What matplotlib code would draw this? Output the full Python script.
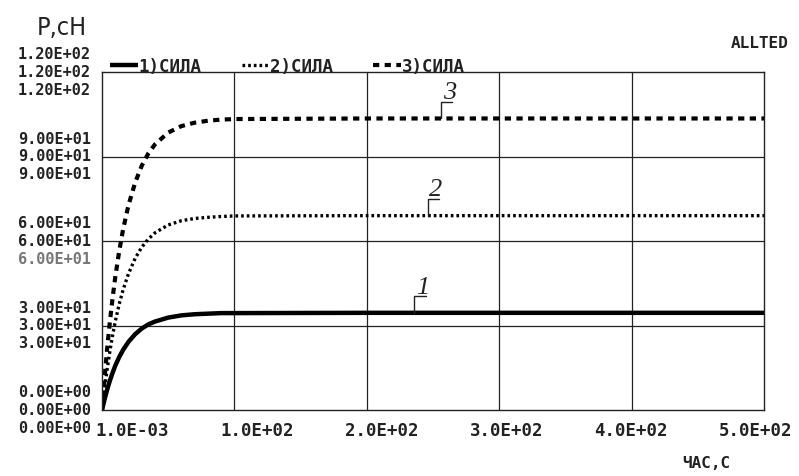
import matplotlib
matplotlib.use('Agg')
import matplotlib.pyplot as plt
import numpy as np

# data (time in s, force in cN)
t = [0, 2, 4, 6, 8, 10, 13, 16, 20, 25, 30, 35, 40, 50, 60, 70, 80, 90, 100,
     200, 300, 400, 500]
force1 = [0, 3.9, 7.4, 10.5, 13.2, 15.7, 18.8, 21.4, 24.2, 26.9, 28.9, 30.4,
          31.4, 32.8, 33.6, 34.0, 34.2, 34.4, 34.4, 34.5, 34.5, 34.5, 34.5]
force2 = [0, 7.9, 14.8, 21.0, 26.5, 31.4, 37.6, 42.8, 48.4, 53.8, 57.8, 60.7,
          62.9, 65.7, 67.2, 68.0, 68.4, 68.7, 68.9, 69.0, 69.0, 69.0, 69.0]
force3 = [0, 11.8, 22.3, 31.6, 39.7, 47.1, 56.4, 64.3, 72.7, 80.7, 86.7, 91.1,
          94.3, 98.5, 100.8, 102.0, 102.7, 103.1, 103.3, 103.5, 103.5, 103.5, 103.5]

xticks = [0, 100, 200, 300, 400, 500]
xtick_labels = ['1.0E-03', '1.0E+02', '2.0E+02', '3.0E+02', '4.0E+02', '5.0E+02']
yticks = [0, 30, 60, 90, 120]
ytick_labels = ['0.00E+00', '3.00E+01', '6.00E+01', '9.00E+01', '1.20E+02']
legend_labels = ['1)СИЛА', '2)СИЛА', '3)СИЛА']
curve_tags = ['1', '2', '3']
tag_times = [236, 246, 256]

mono = 'DejaVu Sans Mono'
ink = '#222222'

fig = plt.figure(figsize=(7.99, 4.77), dpi=100)
ax = fig.add_axes([102/799, 1-411/477, (764-102)/799, (411-73)/477])
ax.set_xlim(0, 500)
ax.set_ylim(0, 120)

l1, = ax.plot(t, force1, color='black', lw=3.2, solid_capstyle='butt')
l2, = ax.plot(t, force2, color='black', lw=2.4, linestyle=(0, (0.8, 0.9)))
l3, = ax.plot(t, force3, color='black', lw=3.0, linestyle=(0, (1.5, 1.3)))

# grid lines
for xv in xticks[1:-1]:
    ax.axvline(xv, color=ink, lw=0.9, zorder=0)
for yv in yticks[1:-1]:
    ax.axhline(yv, color=ink, lw=0.9, zorder=0)
for s in ax.spines.values():
    s.set_linewidth(1.0)
    s.set_color(ink)

# x labels sit slightly off the grid lines in the original
ax.set_xticks(xticks)
ax.set_xticklabels([])
ax.tick_params(axis='both', which='both', length=0)
ax.set_xticks(np.linspace(23, 494, 6), minor=True)
ax.set_xticklabels(xtick_labels, minor=True, fontfamily=mono,
                   fontweight='bold', fontsize=12.5, color=ink)
ax.tick_params(axis='x', which='minor', pad=8)

# y labels repeated three times around every grid line
ax.set_yticks(yticks)
ax.set_yticklabels([])
for yv, lab in zip(yticks, ytick_labels):
    for dy in (13, 0.5, -12.5):
        col = ink
        if yv == 60 and dy < 0:
            col = '#777777'
        ax.annotate(lab, xy=(0, yv), xycoords=('axes fraction', 'data'),
                    xytext=(-8, dy), textcoords='offset points',
                    ha='right', va='center', fontfamily=mono,
                    fontweight='bold', fontsize=11, color=col)

# curve number tags with leader lines
for tag, tt, line in zip(curve_tags, tag_times, [force1, force2, force3]):
    yv = line[-1]
    ax.annotate('', xy=(tt, yv), xytext=(8, 12), textcoords='offset points',
                arrowprops=dict(arrowstyle='-', lw=1.0, color=ink,
                                connectionstyle='angle,angleA=0,angleB=90,rad=0',
                                shrinkA=0, shrinkB=0))
    ax.annotate(tag, xy=(tt, yv), xytext=(6, 11), textcoords='offset points',
                ha='center', va='bottom', fontfamily='Liberation Serif',
                fontstyle='italic', fontsize=19, color=ink)

leg = ax.legend([l1, l2, l3], legend_labels, ncol=3, frameon=False,
                loc='lower left', bbox_to_anchor=(0.012, 0.99),
                borderaxespad=0, handlelength=1.6, handletextpad=0.05,
                columnspacing=2.3, borderpad=0,
                prop=dict(family=mono, weight='bold', size=12.5))
for txt in leg.get_texts():
    txt.set_color(ink)

fig.text(62/799, 1-28/477, 'Р,сН', ha='center', va='center', fontsize=18,
         family='DejaVu Sans', stretch='condensed', color=ink)
fig.text(760/799, 1-43/477, 'ALLTED', ha='center', va='center',
         fontfamily=mono, fontweight='bold', fontsize=11.5, color=ink)
fig.text(706/799, 1-464/477, 'ЧАС,С', ha='center', va='center',
         fontfamily=mono, fontweight='bold', fontsize=11.5, color=ink)

plt.savefig('out.png', dpi=100)
